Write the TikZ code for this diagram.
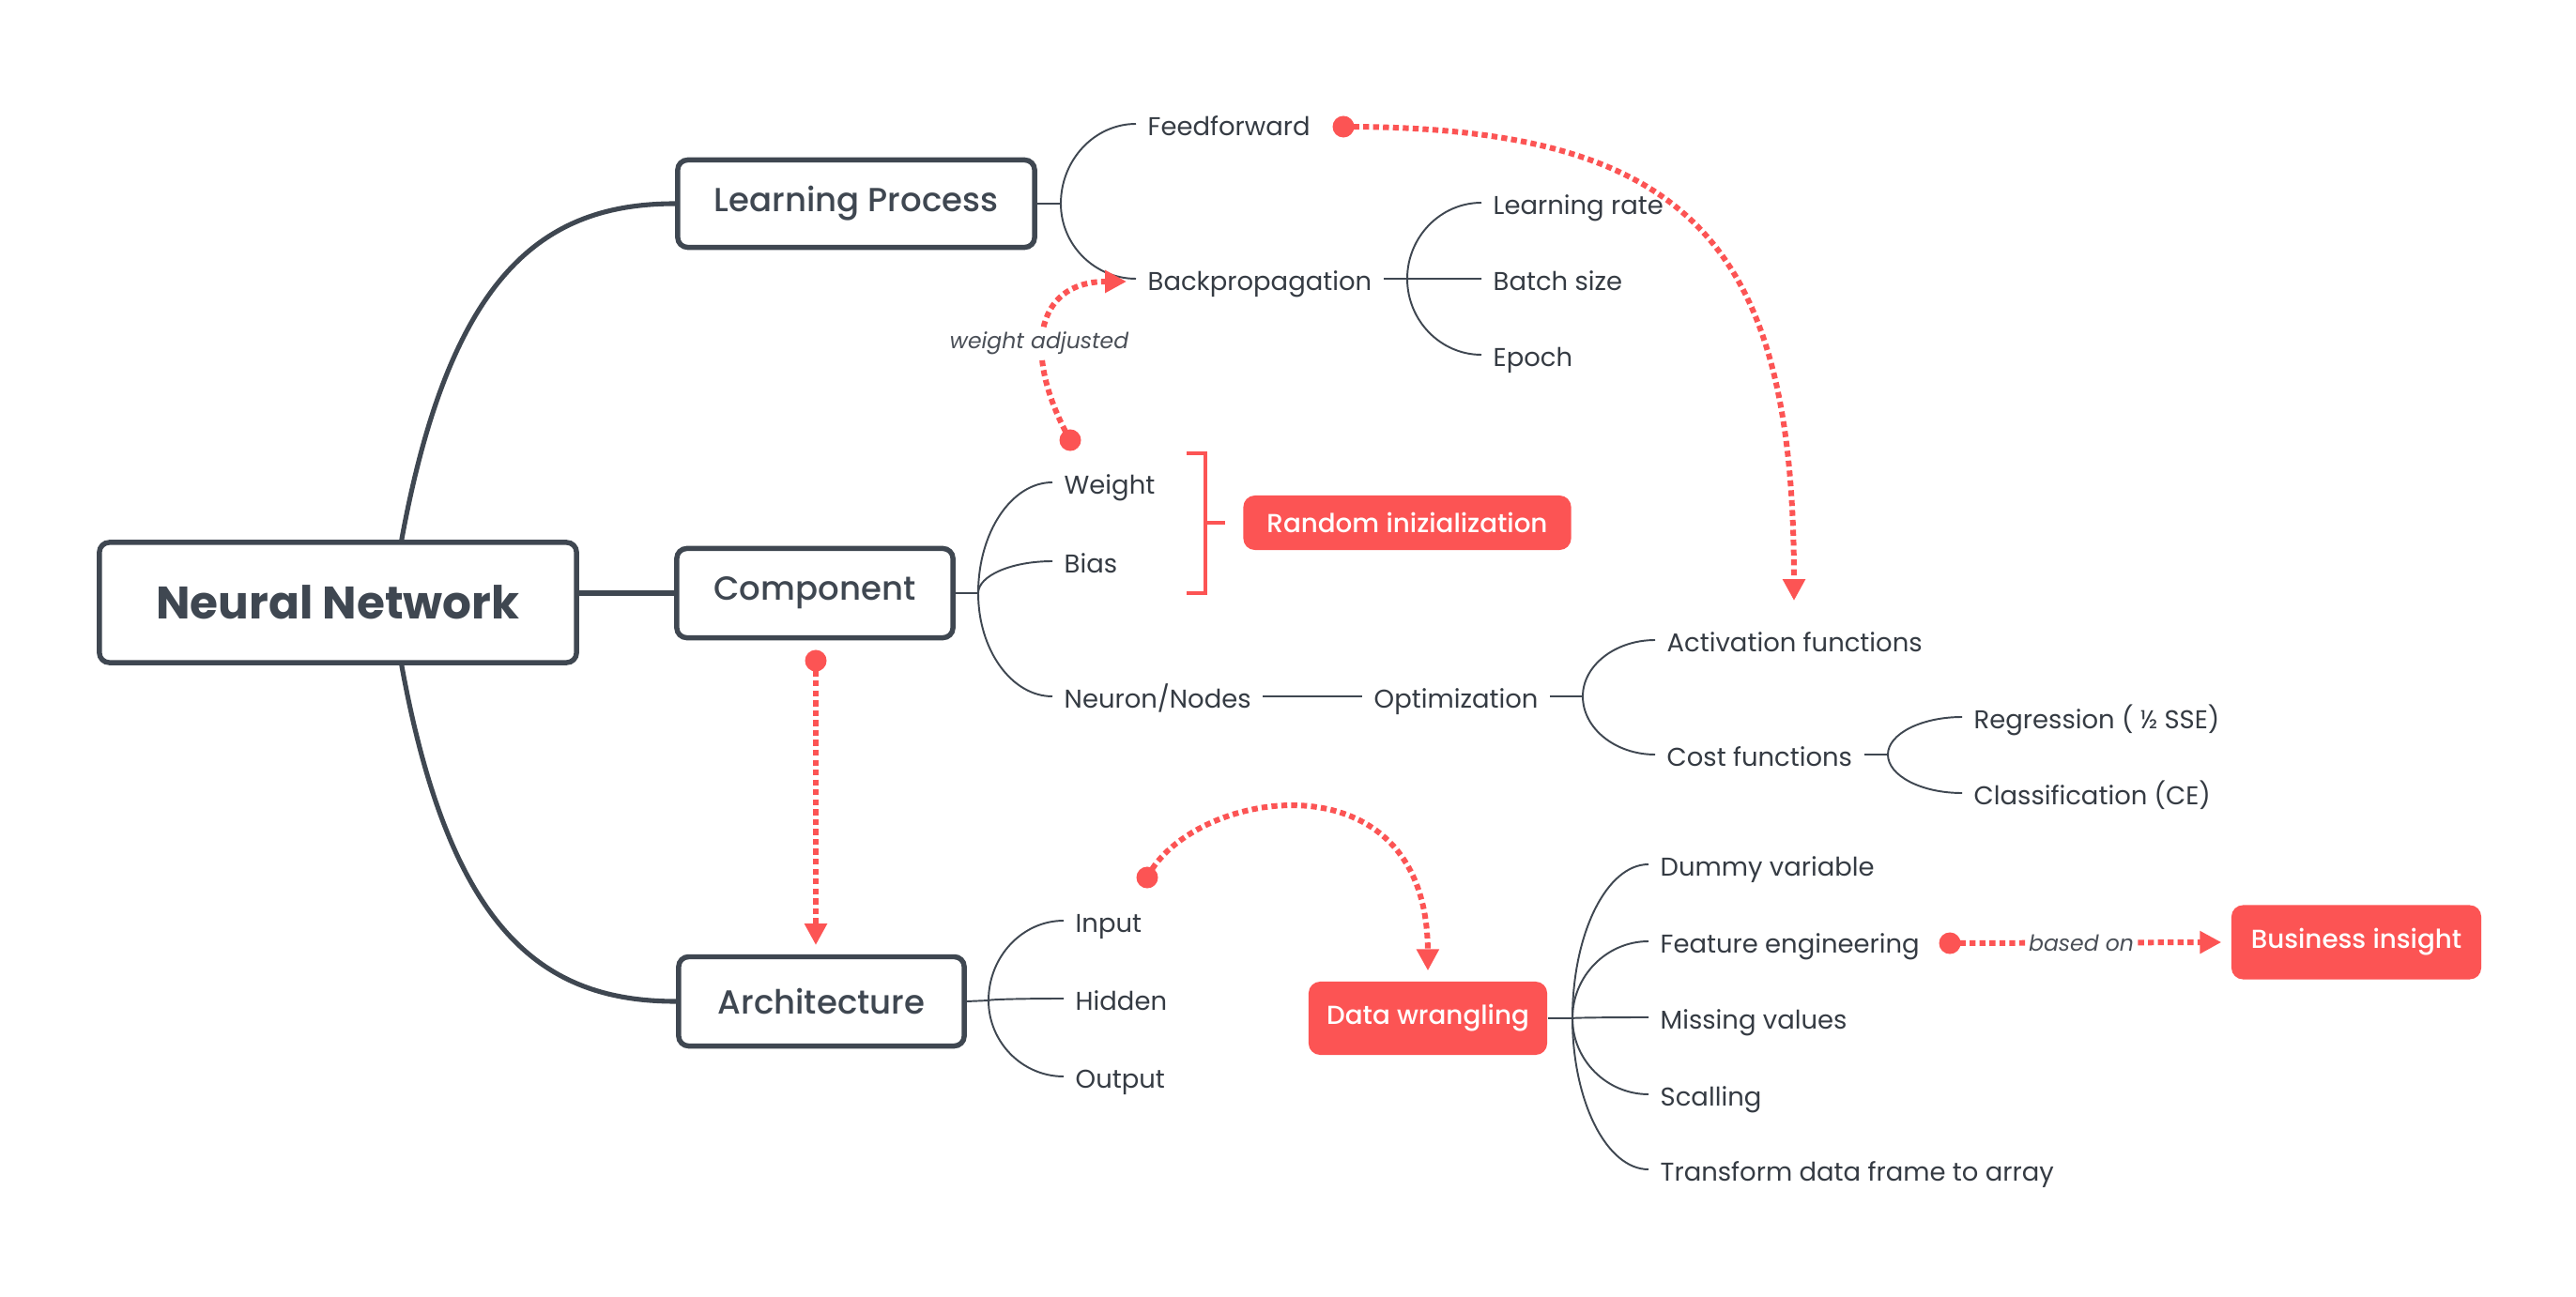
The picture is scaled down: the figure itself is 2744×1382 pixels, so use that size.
\documentclass[tikz,border=0pt]{standalone}
\usepackage{fontspec}
\setmainfont{Poppins}
\newfontfamily\medfont{Poppins Medium}
\usetikzlibrary{arrows.meta,calc}
\definecolor{dk}{HTML}{3F4751}
\definecolor{tx}{HTML}{353B43}
\definecolor{rd}{HTML}{FC5454}
\definecolor{lbl}{HTML}{4A4F57}
\newcommand\twigto[2]{\draw[twig] (#1) .. controls ($(#1)!0.55!(#1|-#2)$) and ($(#2)!0.55!(#1|-#2)$) .. (#2);}
\begin{document}
\begin{tikzpicture}[x=0.01cm,y=0.01cm,
  mainbox/.style={draw=dk, line width=1.55pt, rounded corners=3pt, fill=white, text=dk, font=\medfont\fontsize{10.1}{12}\selectfont, inner sep=0pt},
  leaf/.style={anchor=west, text=tx, font=\fontsize{7.8}{10}\selectfont, inner xsep=0.12cm, inner ysep=0pt, text height=0.72em, text depth=0pt},
  redbox/.style={fill=rd, rounded corners=3.5pt, text=white, font=\medfont\fontsize{7.9}{10}\selectfont, inner sep=0pt},
  trunk/.style={draw=dk, line width=1.45pt},
  twig/.style={draw=dk, line width=0.55pt},
  rel/.style={draw=rd, line width=1.7pt, dash pattern=on 1.8pt off 1.2pt},
  tipend/.style={-{Triangle[length=6.5pt,width=6.5pt]}},
  note/.style={font=\itshape\fontsize{6.7}{8}\selectfont, text=lbl, fill=white, inner sep=1pt},
  reddot/.style={circle, fill=rd, minimum size=0.23cm, inner sep=0pt}
]
\path[use as bounding box, fill=white] (0,0) rectangle (2744,-1382);

% main boxes
\node[mainbox, minimum width=5.08cm, minimum height=1.28cm, font=\bfseries\fontsize{13.8}{15}\selectfont] (nn) at (360,-642) {Neural Network};
\node[mainbox, minimum width=3.80cm, minimum height=0.93cm] (lp) at (912,-217) {Learning Process};
\node[mainbox, minimum width=2.94cm, minimum height=0.95cm] (comp) at (868,-632) {Component};
\node[mainbox, minimum width=3.04cm, minimum height=0.95cm] (arch) at (875,-1067) {Architecture};

% trunk connectors
\coordinate (nt) at ($(nn.north west)!0.632!(nn.north east)$);
\coordinate (nb) at ($(nn.south west)!0.632!(nn.south east)$);
\draw[trunk] (nt) .. controls (480,-290) and (580,-217) .. (lp.west);
\draw[trunk] (nb) .. controls (480,-995) and (580,-1067) .. (arch.west);
\draw[trunk] (comp.west -| nn.east) -- (comp.west);

% Learning process
\coordinate (lpb) at (1130,-217);
\draw[twig] (lp.east) -- (lpb);
\node[leaf] (ff) at (1210,-132) {Feedforward};
\node[leaf] (bp) at (1210,-297) {Backpropagation};
\twigto{lpb}{ff.west}
\twigto{lpb}{bp.west}
\coordinate (bpb) at (1499,-297);
\draw[twig] (bp.east) -- (bpb);
\node[leaf] (lr) at (1578,-216) {Learning rate};
\node[leaf] (bs) at (1578,-297) {Batch size};
\node[leaf] (ep) at (1578,-378) {Epoch};
\twigto{bpb}{lr.west}
\twigto{bpb}{bs.west}
\twigto{bpb}{ep.west}

% Component
\coordinate (cb) at (1042,-632);
\draw[twig] (comp.east) -- (cb);
\node[leaf] (wt) at (1121,-514) {Weight};
\node[leaf] (bi) at (1121,-598) {Bias};
\node[leaf] (nrn) at (1121,-742) {Neuron/Nodes};
\twigto{cb}{wt.west}
\twigto{cb}{bi.west}
\twigto{cb}{nrn.west}
\node[leaf] (opt) at (1451,-742) {Optimization};
\draw[twig] (nrn.east) -- (opt.west);
\coordinate (ob) at (1686,-742);
\draw[twig] (opt.east) -- (ob);
\node[leaf] (act) at (1763,-682) {Activation functions};
\node[leaf] (cost) at (1763,-804) {Cost functions};
\twigto{ob}{act.west}
\twigto{ob}{cost.west}
\coordinate (cfb) at (2011,-804);
\draw[twig] (cost.east) -- (cfb);
\node[leaf] (reg) at (2090,-764) {Regression ( ½ SSE)};
\node[leaf] (cls) at (2090,-845) {Classification (CE)};
\twigto{cfb}{reg.west}
\twigto{cfb}{cls.west}

% bracket + random init
\node[redbox, minimum width=3.49cm, minimum height=0.58cm] (rnd) at (1499,-557) {Random inizialization};
\draw[draw=rd, line width=1.3pt] (1264,-483) -- (1284,-483) -- (1284,-632) -- (1264,-632);
\draw[draw=rd, line width=1.3pt] (1284,-557) -- (1305,-557);

% Architecture
\coordinate (ab) at (1053,-1066);
\draw[twig] (arch.east) -- (ab);
\node[leaf] (inp) at (1133,-981) {Input};
\node[leaf] (hid) at (1133,-1064) {Hidden};
\node[leaf] (outp) at (1133,-1147) {Output};
\twigto{ab}{inp.west}
\twigto{ab}{hid.west}
\twigto{ab}{outp.west}

% Data wrangling
\node[redbox, minimum width=2.54cm, minimum height=0.78cm] (dw) at (1521,-1085) {Data wrangling};
\coordinate (dwb) at (1675,-1085);
\draw[twig] (dw.east) -- (dwb);
\node[leaf] (dum) at (1756,-921) {Dummy variable};
\node[leaf] (fe) at (1756,-1003) {Feature engineering};
\node[leaf] (mv) at (1756,-1084) {Missing values};
\node[leaf] (sc) at (1756,-1166) {Scalling};
\node[leaf] (tf) at (1756,-1246) {Transform data frame to array};
\twigto{dwb}{dum.west}
\twigto{dwb}{fe.west}
\twigto{dwb}{mv.west}
\twigto{dwb}{sc.west}
\twigto{dwb}{tf.west}

\node[redbox, minimum width=2.66cm, minimum height=0.79cm] (bsi) at (2510,-1004) {Business insight};

% red relations
\node[reddot] (d1) at (1431,-135) {};
\coordinate (t1) at (1911,-640);
\draw[rel, tipend] (d1.center) .. controls (1800,-135) and (1911,-260) .. (t1);

\node[reddot] (d2) at (1140,-469) {};
\coordinate (t2) at (1200,-300);
\draw[rel, tipend] (d2.center) .. controls (1090,-380) and (1100,-300) .. (t2);
\node[note] (wa) at (1107,-366) {weight adjusted};

\node[reddot] (d3) at (1222,-935) {};
\coordinate (t3) at ($(dw.north)+(0,11)$);
\draw[rel, tipend] (d3.center) .. controls (1270,-840) and (1520,-800) .. (t3);

\node[reddot] (d4) at (869,-704) {};
\coordinate (t4) at (869,-1007);
\draw[rel, tipend] (d4.center) -- (t4);

\node[reddot] (d5) at (2077,-1005) {};
\coordinate (t5) at ($(bsi.west)+(-10,0)$);
\draw[rel, tipend] (d5.center) -- (t5);
\node[note] (bo) at (2217,-1005) {based on};
\end{tikzpicture}
\end{document}
